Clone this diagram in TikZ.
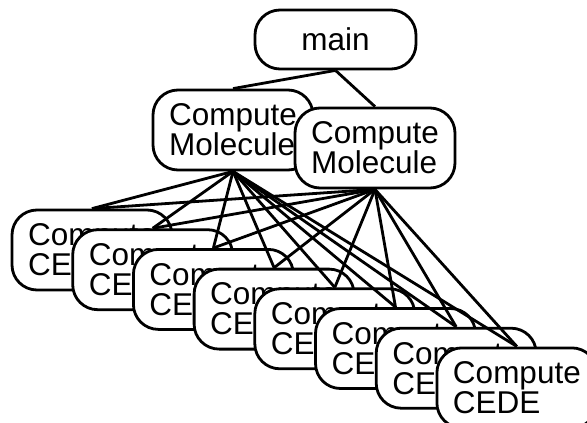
\documentclass[tikz,border=0pt]{standalone}
\usepackage{fontspec}
\setmainfont{Liberation Sans}
\begin{document}
\begin{tikzpicture}[x=1pt,y=-1pt,
  box/.style={draw, fill=white, line width=2.8pt, rounded corners=25pt,
    minimum width=160pt, minimum height=80pt, inner sep=0pt, align=left,
    font=\fontsize{31.5}{30}\selectfont},
  link/.style={line width=2.8pt}]
\useasboundingbox (0,0) rectangle (587,423);
\clip (0,0) rectangle (587,423);

% top of the call tree
\node[box, minimum width=161pt, minimum height=59pt] (main) at (335.5,39.5) {main};
\node[box] (cm1) at (233,130) {Compute\\Molecule};
\node[box] (cm2) at (375,148) {Compute\\Molecule};
\draw[link] (main.south) -- (cm1.north);
\draw[link] (main.south) -- (cm2.north);

% the staggered stack of CEDE calls
\foreach \i in {0,...,7}
  \node[box] (c\i) at ({92+60.7*\i},{250+19.7*\i}) {Compute\\CEDE};

% every molecule call reaches every CEDE call
\foreach \i in {0,...,7} {
  \draw[link] (cm1.south) -- (c\i.north);
  \draw[link] (cm2.south) -- (c\i.north);
}
\end{tikzpicture}
\end{document}
